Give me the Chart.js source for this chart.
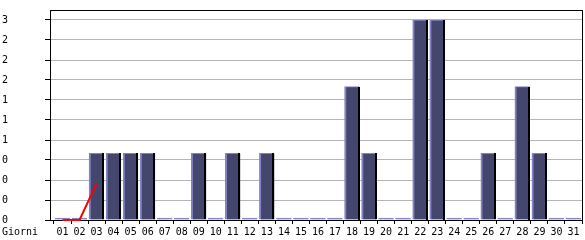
<!DOCTYPE html>
<html>
<head>
<meta charset="utf-8">
<script src="https://cdn.jsdelivr.net/npm/chart.js@4/dist/chart.umd.min.js"></script>
<style>
  html, body { margin: 0; padding: 0; background: #fff; }
  #wrap { width: 585px; height: 240px; position: relative; }
</style>
</head>
<body>
<div id="wrap"><canvas id="c" width="585" height="240"></canvas></div>
<script>
// ---- data ----
const days = ['01','02','03','04','05','06','07','08','09','10','11','12','13','14','15','16',
              '17','18','19','20','21','22','23','24','25','26','27','28','29','30','31'];
const visits = [0,0,1,1,1,1,0,0,1,0,1,0,1,0,0,0,0,2,1,0,0,3,3,0,0,1,0,2,1,0,0];
const trend = [0, 0, 0.55];
const yTickValues = [0, 0.3, 0.6, 0.9, 1.2, 1.5, 1.8, 2.1, 2.4, 2.7, 3.0];
const yTickLabels = ['0','0','0','0','1','1','1','2','2','2','3'];
const xTitle = 'Giorni';

Chart.defaults.font.family = "'DejaVu Sans Mono', monospace";
Chart.defaults.font.size = 10;
Chart.defaults.color = '#000';

const barData = visits.map((v, i) => ({ x: i + 1, y: v }));
const lineData = trend.map((v, i) => ({ x: i + 1, y: v }));

const framePlugin = {
  id: 'frame',
  beforeDatasetsDraw(chart) {
    const ctx = chart.ctx;
    const a = chart.chartArea;
    ctx.save();
    ctx.strokeStyle = '#000';
    ctx.lineWidth = 1;
    ctx.strokeRect(Math.round(a.left) + 0.5, Math.round(a.top) + 0.5,
                   Math.round(a.right - a.left), Math.round(a.bottom - a.top));
    ctx.restore();
  },
  afterDatasetDraw(chart, args) {
    if (args.index !== 0) return;
    const ctx = chart.ctx;
    const meta = chart.getDatasetMeta(0);
    ctx.save();
    ctx.fillStyle = '#000';
    meta.data.forEach((bar, i) => {
      if (visits[i] === 0) return;
      const p = bar.getProps(['x', 'y', 'base', 'width'], true);
      const right = Math.round(p.x + p.width / 2);
      ctx.fillRect(right - 2, Math.round(p.y), 2, Math.round(p.base - p.y));
    });
    ctx.restore();
  },
  afterDraw(chart) {
    const ctx = chart.ctx;
    const xs = chart.scales.x;
    ctx.save();
    ctx.fillStyle = '#000';
    ctx.font = "10px 'DejaVu Sans Mono'";
    ctx.textAlign = 'left';
    ctx.textBaseline = 'middle';
    ctx.fillText(xTitle, 2, xs.top + 12);
    ctx.restore();
  }
};

new Chart(document.getElementById('c'), {
  type: 'bar',
  data: {
    datasets: [
      {
        type: 'bar',
        data: barData,
        order: 1,
        barThickness: 15,
        minBarLength: 2,
        backgroundColor: ctx => (ctx.raw && ctx.raw.y === 0) ? '#8a8ac8' : '#45466e',
        borderColor: '#8383c3',
        borderWidth: { top: 1, left: 2, right: 0, bottom: 0 },
        borderSkipped: 'start'
      },
      {
        type: 'line',
        data: lineData,
        order: 0,
        borderColor: '#ff0000',
        borderWidth: 2,
        pointRadius: 0,
        tension: 0,
        fill: false,
        clip: false
      }
    ]
  },
  options: {
    responsive: false,
    animation: false,
    events: [],
    layout: { padding: { left: 2, top: 10, right: 3, bottom: 0 } },
    plugins: { legend: { display: false }, tooltip: { enabled: false } },
    scales: {
      x: {
        type: 'linear',
        min: 0.266,
        max: 31.5,
        offset: false,
        afterBuildTicks: s => { s.ticks = days.map((d, i) => ({ value: i + 1 })); },
        afterFit: s => { s.height = 20; },
        ticks: {
          autoSkip: false,
          maxRotation: 0,
          padding: 2,
          callback: v => days[Math.round(v) - 1]
        },
        grid: { drawOnChartArea: false, drawTicks: true, tickLength: 4, tickColor: '#000' },
        border: { display: false }
      },
      y: {
        type: 'linear',
        min: 0,
        max: 3.15,
        afterBuildTicks: s => { s.ticks = yTickValues.map(v => ({ value: v })); },
        afterFit: s => { s.width = 48; },
        ticks: {
          crossAlign: 'far',
          padding: 2,
          callback: (v, i) => yTickLabels[i]
        },
        grid: {
          color: c => (c.tick && c.tick.value === 0) ? 'rgba(0,0,0,0)' : '#b4b4b4',
          tickColor: '#000',
          tickLength: 5
        },
        border: { display: false }
      }
    }
  },
  plugins: [framePlugin]
});
</script>
</body>
</html>
